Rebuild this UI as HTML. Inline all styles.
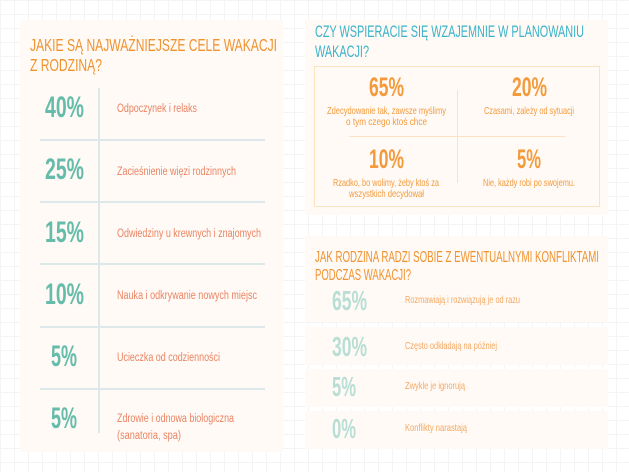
<!DOCTYPE html>
<html><head><meta charset="utf-8"><style>
html,body{margin:0;padding:0}
body{width:629px;height:472px;position:relative;overflow:hidden;background:#fff;
background-image:linear-gradient(#f4f4f4 1px,transparent 1px),linear-gradient(90deg,#f4f4f4 1px,transparent 1px);background-size:14px 14px;font-family:"Liberation Sans","DejaVu Sans",sans-serif}
.card{position:absolute;background:#fffaf5}
.t{position:absolute;white-space:nowrap;line-height:1;transform-origin:0 0}
.ln{position:absolute}
</style></head><body>
<div class="card" style="left:20px;top:20px;width:263px;height:432px"></div>
<div class="card" style="left:305px;top:20px;width:303px;height:195px"></div>
<div class="card" style="left:305px;top:236px;width:303px;height:86px"></div>
<div class="card" style="left:305px;top:327px;width:303px;height:38px"></div>
<div class="card" style="left:305px;top:369px;width:303px;height:38px"></div>
<div class="card" style="left:305px;top:411px;width:303px;height:38px"></div>
<div class="ln" style="left:314px;top:66px;width:284px;height:139px;border:1px solid #fde2c2"></div>
<div class="ln" style="left:98px;top:88px;width:2px;height:345px;background:#dde8ea"></div>
<div class="ln" style="left:457px;top:90px;width:1px;height:93px;background:#fde2c2"></div>
<div class="ln" style="left:349px;top:136px;width:216px;height:1px;background:#fde2c2"></div>
<script>
const goalValues=[40,25,15,10,5,5];
const goalLabels=[["Odpoczynek i relaks"],["Zacieśnienie więzi rodzinnych"],["Odwiedziny u krewnych i znajomych"],["Nauka i odkrywanie nowych miejsc"],["Ucieczka od codzienności"],["Zdrowie i odnowa biologiczna","(sanatoria, spa)"]];
const goalLabelW=[[80],[119],[144],[140],[103],[117,64]];
const supportValues=[65,20,10,5];
const supportLabels=[["Zdecydowanie tak, zawsze myślimy","o tym czego ktoś chce"],["Czasami, zależy od sytuacji"],["Rzadko, bo wolimy, żeby ktoś za","wszystkich decydował"],["Nie, każdy robi po swojemu."]];
const supportLabelW=[[119,81],[90],[106,75],[92]];
const conflictValues=[65,30,5,0];
const conflictLabels=["Rozmawiają i rozwiązują je od razu","Często odkładają na później","Zwykle je ignorują","Konflikty narastają"];
const conflictLabelW=[115,92,60,62];

function txt(s,x,capTop,capH,color,bold,w,align,name){
  const fs=capH/0.716;
  const d=document.createElement('div');
  d.className='t';d.textContent=s;
  
  
  d.style.fontSize=fs+'px';d.style.color=color;d.style.fontWeight=bold?'bold':'normal';
  d.style.top=(capTop-0.13*fs)+'px';
  document.body.appendChild(d);
  const nw=d.getBoundingClientRect().width;const sc=w/nw;
  let left=x;if(align==='c')left=x-w/2;
  d.style.left=left+'px';d.style.transform='scaleX('+sc+')';
  return d;
}
function line(x,y,w,c,name){const d=document.createElement('div');d.className='ln';


d.style.cssText+='left:'+x+'px;top:'+y+'px;width:'+w+'px;height:2px;background:'+c;document.body.appendChild(d);}
txt("JAKIE SĄ NAJWAŻNIEJSZE CELE WAKACJI",30,39,12.5,"#f0922e",false,247,'l','goals-title-line1');
txt("Z RODZINĄ?",30,59,12.5,"#f0922e",false,72,'l','goals-title-line2');
txt("CZY WSPIERACIE SIĘ WZAJEMNIE W PLANOWANIU",315,26,12,"#3ab3c9",false,269,'l','support-title-line1');
txt("WAKACJI?",315,46,12,"#3ab3c9",false,54,'l','support-title-line2');
txt("JAK RODZINA RADZI SOBIE Z EWENTUALNYMI KONFLIKTAMI",315,251,11.5,"#f0922e",false,284,'l','conflict-title-line1');
txt("PODCZAS WAKACJI?",315,269,11.5,"#f0922e",false,96,'l','conflict-title-line2');
const rowH=62.2, row0=97;
goalValues.forEach((v,i)=>{
  const y=row0+i*rowH;
  const s=v+'%';const w=s.length===3?39:26;
  txt(s,64,y,21,"#66bcaa",true,w,'c','goal-value-'+i);
  const lb=goalLabels[i];
  lb.forEach((l,j)=>{
    const top= lb.length===1? y+8 : y+8-1+j*17;
    txt(l,117,top,8.5,"#ea8463",false,goalLabelW[i][j],'l','goal-label-'+i+'-'+j);
  });
  if(i<goalValues.length-1) line(40,y+42,225,"#dde8ea",'goal-row-line-'+i);
});
const sx=[386,529],sy=[77,149];
supportValues.forEach((v,i)=>{
  const cx=sx[i%2],y=sy[Math.floor(i/2)];
  const s=v+'%';
  txt(s,cx,y,19,"#f49a3c",true,s.length===3?35:24,'c','support-value-'+i);
  supportLabels[i].forEach((l,j)=>{
    txt(l,cx,y+31+j*11,7.5,"#f49a3c",false,supportLabelW[i][j],'c','support-label-'+i+'-'+j);
  });
});
const cy=[291,337,377,419];
conflictValues.forEach((v,i)=>{
  const s=v+'%';
  txt(s,332,cy[i],20,"#b8ded6",true,s.length===3?35:24,'l','conflict-value-'+i);
  txt(conflictLabels[i],405,cy[i]+6,7.5,"#f5a862",false,conflictLabelW[i],'l','conflict-label-'+i);
});
</script>
</body></html>
